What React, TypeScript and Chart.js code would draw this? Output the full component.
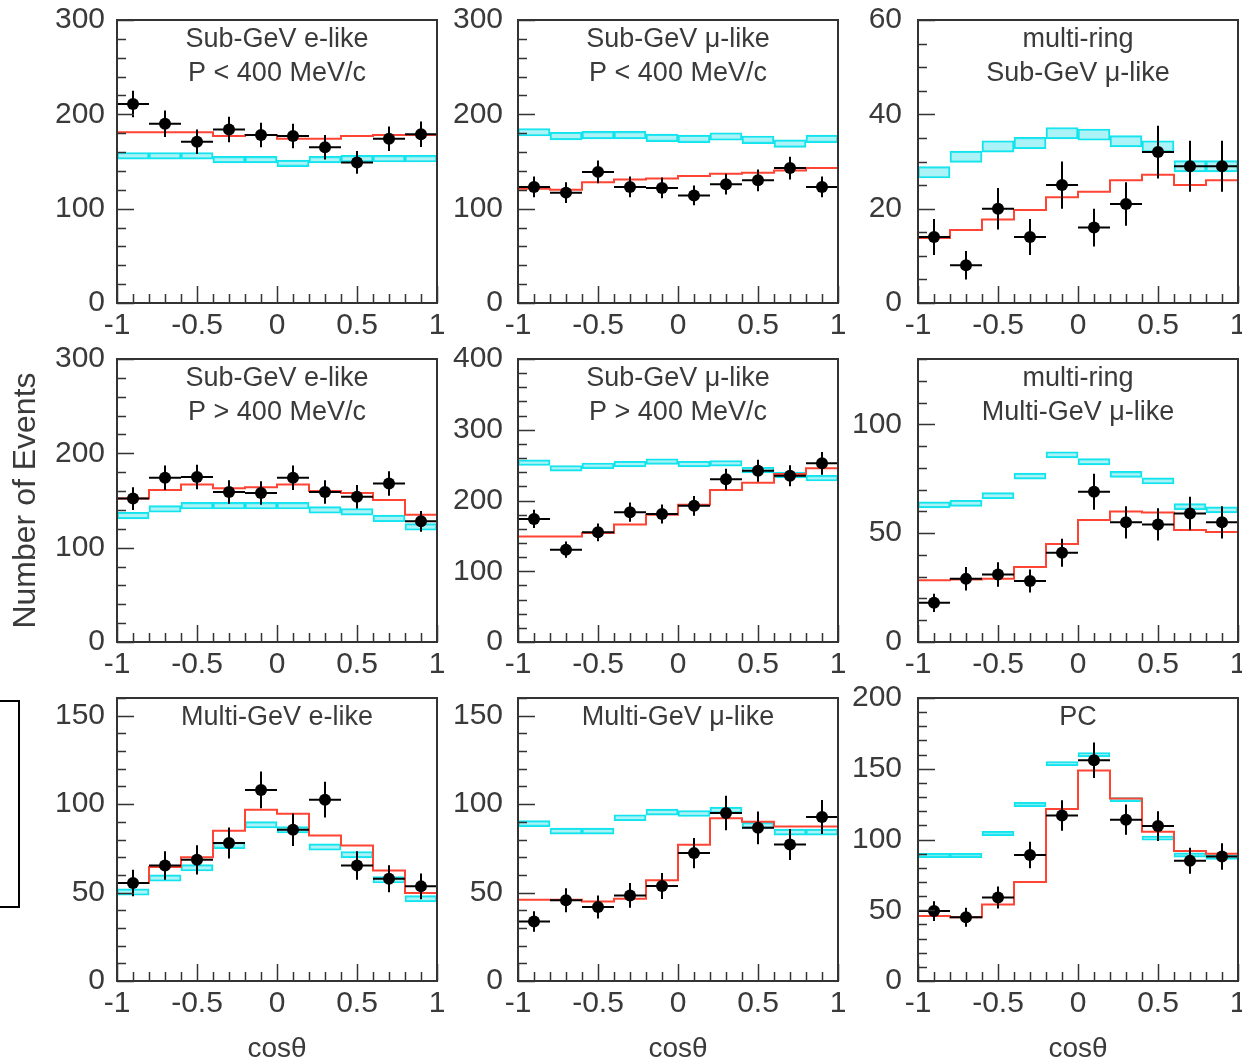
import React, { useEffect, useRef } from "react";
import { Chart, registerables } from "chart.js";
Chart.register(...registerables);

const FONT = "'Liberation Sans', Arial, Helvetica, sans-serif";
const TEXT = "#3a3a3a";

// ---- shared axis data ----
const binCenters = [-0.9, -0.7, -0.5, -0.3, -0.1, 0.1, 0.3, 0.5, 0.7, 0.9];
const binEdges = [-1, -0.8, -0.6, -0.4, -0.2, 0, 0.2, 0.4, 0.6, 0.8, 1];
const xTickValues = [-1, -0.5, 0, 0.5, 1];
const xTickLabels = ["-1", "-0.5", "0", "0.5", "1"];

// ---- panel 1: Sub-GeV e-like P<400 ----
const p1Title = ["Sub-GeV e-like", "P < 400 MeV/c"];
const p1Data = [211, 190, 171, 184, 178, 177, 165, 149, 174, 179];
const p1Err = [14, 14, 13, 13.5, 13, 13, 13, 12, 13, 13.5];
const p1Osc = [181, 181, 181, 177, 178, 174, 174, 177, 178, 178];
const p1NoOsc = [156, 156, 156, 152, 152, 148, 152, 153, 153, 153];
const p1Band = 3.5;
const p1YTicks = [0, 100, 200, 300];

// ---- panel 2: Sub-GeV mu-like P<400 ----
const p2Title = ["Sub-GeV μ-like", "P < 400 MeV/c"];
const p2Data = [123, 117, 139, 123, 122, 114, 126, 130, 143, 123];
const p2Err = [11, 11, 12, 11, 11, 10.5, 11, 11.5, 12, 11];
const p2Osc = [121, 120, 128, 131, 132, 134.5, 137, 138, 140.5, 143];
const p2NoOsc = [181, 177, 178, 178, 175, 174, 176.5, 173, 169, 174];
const p2Band = 4;
const p2YTicks = [0, 100, 200, 300];

// ---- panel 3: multi-ring Sub-GeV mu-like ----
const p3Title = ["multi-ring", "Sub-GeV μ-like"];
const p3Data = [14, 8, 20, 14, 25, 16, 21, 32, 29, 29];
const p3Err = [3.8, 3, 4.4, 3.8, 5, 4, 4.6, 5.6, 5.4, 5.4];
const p3Osc = [13.8, 15.5, 17.7, 19.7, 22.4, 23.6, 26, 27.2, 25, 26];
const p3NoOsc = [27.7, 31, 33.2, 33.9, 36, 35.7, 34.3, 33.2, 29, 29];
const p3Band = 1.2;
const p3YTicks = [0, 20, 40, 60];

// ---- panel 4: Sub-GeV e-like P>400 ----
const p4Title = ["Sub-GeV e-like", "P > 400 MeV/c"];
const p4Data = [152, 174, 175, 159, 158, 174, 159, 154, 168, 128];
const p4Err = [12, 13, 13, 12.5, 12.5, 13, 12.5, 12.5, 13, 11];
const p4Osc = [152, 161, 167, 163, 164, 167, 160, 158, 150.5, 135];
const p4NoOsc = [134, 141, 144.5, 144.5, 144.5, 144.5, 140, 138, 131, 122];
const p4Band = 3.5;
const p4YTicks = [0, 100, 200, 300];

// ---- panel 5: Sub-GeV mu-like P>400 ----
const p5Title = ["Sub-GeV μ-like", "P > 400 MeV/c"];
const p5Data = [174, 130.5, 155, 183.5, 181, 192.5, 230, 242, 235, 252.5];
const p5Err = [13, 11.5, 12.5, 13.5, 13.5, 14, 15, 15.5, 15, 16];
const p5Osc = [149, 149, 154, 166, 180, 194, 215, 225, 237.5, 245.5];
const p5NoOsc = [253.5, 245.5, 249, 251.5, 255, 251.5, 252.5, 243, 236, 231.5];
const p5Band = 4;
const p5YTicks = [0, 100, 200, 300, 400];

// ---- panel 6: multi-ring Multi-GeV mu-like ----
const p6Title = ["multi-ring", "Multi-GeV μ-like"];
const p6Data = [18, 29, 31, 28, 41, 69, 55, 54, 59, 55];
const p6Err = [4.2, 5.4, 5.6, 5.3, 6.4, 8.3, 7.4, 7.4, 7.7, 7.4];
const p6Osc = [28.4, 28.7, 29, 34.5, 45, 56, 60, 59.5, 51.5, 50.5];
const p6NoOsc = [63, 63.7, 67.2, 76.2, 86, 82.8, 77, 74, 62.2, 60.7];
const p6Band = 1.4;
const p6YTicks = [0, 50, 100];

// ---- panel 7: Multi-GeV e-like ----
const p7Title = ["Multi-GeV e-like"];
const p7Data = [55.4, 65.3, 68.5, 78, 108, 85.5, 102.5, 65.3, 57.8, 53.5];
const p7Err = [7.5, 8, 8.3, 8.8, 10.4, 9.2, 10.1, 8, 7.6, 7.3];
const p7Osc = [55.4, 64.4, 70, 85, 96.8, 94.5, 82.3, 76.6, 62.5, 49.7];
const p7NoOsc = [50.3, 58.2, 64, 76.6, 88.3, 85.5, 75.7, 71.4, 57.2, 46.5];
const p7Band = 1.8;
const p7YTicks = [0, 50, 100, 150];

// ---- panel 8: Multi-GeV mu-like ----
const p8Title = ["Multi-GeV μ-like"];
const p8Data = [33.7, 45.6, 41.8, 48.4, 53.7, 72.3, 95, 86.6, 77.2, 92.7];
const p8Err = [5.8, 6.8, 6.5, 7, 7.3, 8.5, 9.7, 9.3, 8.8, 9.6];
const p8Osc = [46, 46, 45, 46.5, 57, 77, 92, 90, 87.4, 87.4];
const p8NoOsc = [89, 84.7, 84.7, 92.3, 95.5, 94.7, 96.6, 88, 84.2, 84.2];
const p8Band = 1.7;
const p8YTicks = [0, 50, 100, 150];

// ---- panel 9: PC ----
const p9Title = ["PC"];
const p9Data = [49.4, 45, 59, 89, 117, 156, 114, 109.5, 85, 88];
const p9Err = [7, 6.7, 7.7, 9.4, 10.8, 12.5, 10.7, 10.5, 9.2, 9.4];
const p9Osc = [46, 45, 54, 70, 121.6, 148.7, 129, 105.4, 91.8, 90];
const p9NoOsc = [88.7, 88.7, 104.2, 124.7, 153.6, 160, 128.2, 101, 89, 87.5];
const p9Band = 1.5;
const p9YTicks = [0, 50, 100, 150, 200];

const yMaxes = [300, 300, 60, 300, 400, 130, 160, 160, 200];
const yMinorSteps = [20, 20, 5, 20, 20, 10, 10, 10, 10];

type PanelDef = {
  title: string[];
  data: number[];
  err: number[];
  osc: number[];
  noOsc: number[];
  band: number;
  yTicks: number[];
  yMax: number;
  yMinor: number;
  col: number;
  row: number;
};

const raw: [string[], number[], number[], number[], number[], number, number[]][] = [
  [p1Title, p1Data, p1Err, p1Osc, p1NoOsc, p1Band, p1YTicks],
  [p2Title, p2Data, p2Err, p2Osc, p2NoOsc, p2Band, p2YTicks],
  [p3Title, p3Data, p3Err, p3Osc, p3NoOsc, p3Band, p3YTicks],
  [p4Title, p4Data, p4Err, p4Osc, p4NoOsc, p4Band, p4YTicks],
  [p5Title, p5Data, p5Err, p5Osc, p5NoOsc, p5Band, p5YTicks],
  [p6Title, p6Data, p6Err, p6Osc, p6NoOsc, p6Band, p6YTicks],
  [p7Title, p7Data, p7Err, p7Osc, p7NoOsc, p7Band, p7YTicks],
  [p8Title, p8Data, p8Err, p8Osc, p8NoOsc, p8Band, p8YTicks],
  [p9Title, p9Data, p9Err, p9Osc, p9NoOsc, p9Band, p9YTicks],
];

const panels: PanelDef[] = raw.map((r, i) => ({
  title: r[0],
  data: r[1],
  err: r[2],
  osc: r[3],
  noOsc: r[4],
  band: r[5],
  yTicks: r[6],
  yMax: yMaxes[i],
  yMinor: yMinorSteps[i],
  col: i % 3,
  row: Math.floor(i / 3),
}));

// ---- layout ----
const COL_LEFT = [117, 518, 918];
const ROW_TOP = [20, 359, 698];
const PW = 320;
const PH = 283;
const L = 110;
const T = 20;
const R = 14;
const Y_PAD = [12, 15, 16];

function makeDeco(p: PanelDef) {
  return {
    id: "deco",
    afterDraw(chart: any) {
      const { ctx, chartArea: a, scales } = chart;
      const xs = scales.x;
      const ys = scales.y;
      ctx.save();
      ctx.strokeStyle = "#333";
      ctx.lineWidth = 1.5;
      ctx.beginPath();
      // y ticks (inward)
      const yMajor = p.yTicks[1] - p.yTicks[0];
      const ny = Math.round(p.yMax / p.yMinor);
      for (let k = 0; k <= ny; k++) {
        const v = k * p.yMinor;
        const r = v / yMajor;
        const major = Math.abs(r - Math.round(r)) < 1e-6;
        const py = Math.round(ys.getPixelForValue(v)) + 0.5;
        ctx.moveTo(a.left, py);
        ctx.lineTo(a.left + (major ? 17 : 9), py);
      }
      // x ticks (inward)
      for (let k = 0; k <= 20; k++) {
        const v = -1 + k * 0.1;
        const major = k % 5 === 0;
        const px = Math.round(xs.getPixelForValue(v)) + 0.5;
        ctx.moveTo(px, a.bottom);
        ctx.lineTo(px, a.bottom - (major ? 17 : 9));
      }
      ctx.stroke();
      // frame
      ctx.lineWidth = 2;
      ctx.strokeStyle = "#333";
      ctx.strokeRect(a.left, a.top, a.right - a.left, a.bottom - a.top);
      // titles
      ctx.fillStyle = TEXT;
      ctx.font = `27px ${FONT}`;
      ctx.textAlign = "center";
      ctx.textBaseline = "alphabetic";
      const cx = (a.left + a.right) / 2;
      p.title.forEach((t, i) => {
        ctx.fillText(t, cx, a.top + 27 + i * 34);
      });
      ctx.restore();
    },
  };
}

function Panel({ p }: { p: PanelDef }) {
  const ref = useRef<HTMLCanvasElement>(null);
  const B = p.row === 2 ? 1063 - (ROW_TOP[2] + PH) : 40;
  const W = L + PW + R;
  const H = T + PH + B;
  const left = COL_LEFT[p.col] - L;
  const top = ROW_TOP[p.row] - T;

  useEffect(() => {
    const canvas = ref.current;
    if (!canvas) return;

    const dataPts = p.data.map((v, i) => ({ x: binCenters[i], y: v }));
    const errPts: { x: number; y: number | null }[] = [];
    p.data.forEach((v, i) => {
      const c = binCenters[i];
      const lo = binEdges[i];
      const hi = binEdges[i + 1];
      errPts.push({ x: lo, y: v }, { x: hi, y: v }, { x: hi, y: null });
      errPts.push({ x: c, y: v - p.err[i] }, { x: c, y: v + p.err[i] }, { x: c, y: null });
    });
    const oscPts = p.osc.map((v, i) => ({ x: binEdges[i], y: v }));
    oscPts.push({ x: binEdges[binEdges.length - 1], y: p.osc[p.osc.length - 1] });
    const bandPts = p.noOsc.map((v, i) => ({ x: binCenters[i], y: [v - p.band, v + p.band] }));

    const chart = new Chart(canvas, {
      type: "line",
      data: {
        datasets: [
          {
            type: "line",
            label: "data",
            data: dataPts,
            showLine: false,
            pointRadius: 6,
            pointBackgroundColor: "#000",
            pointBorderColor: "#000",
            pointBorderWidth: 0,
            order: 0,
          } as any,
          {
            type: "line",
            label: "err",
            data: errPts,
            borderColor: "#000",
            borderWidth: 2,
            pointRadius: 0,
            spanGaps: false,
            order: 1,
          } as any,
          {
            type: "line",
            label: "osc",
            data: oscPts,
            stepped: true,
            borderColor: "#ff4433",
            borderWidth: 2,
            pointRadius: 0,
            order: 2,
          } as any,
          {
            type: "bar",
            label: "noosc",
            data: bandPts,
            backgroundColor: "rgba(90, 232, 240, 0.5)",
            borderColor: "#10e4ee",
            borderWidth: 1.5,
            borderSkipped: false,
            barPercentage: 1,
            categoryPercentage: 1,
            order: 3,
          } as any,
        ],
      },
      options: {
        animation: false,
        responsive: false,
        devicePixelRatio: 1,
        layout: { padding: { top: T, right: R, left: 0, bottom: 0 } },
        plugins: { legend: { display: false }, tooltip: { enabled: false } },
        scales: {
          x: {
            type: "linear",
            min: -1,
            max: 1,
            offset: false,
            grid: { display: false, drawTicks: false },
            border: { display: false },
            afterBuildTicks: (s: any) => {
              s.ticks = xTickValues.map((v) => ({ value: v }));
            },
            afterFit: (s: any) => {
              s.height = B;
              s.paddingLeft = 0;
              s.paddingRight = 0;
            },
            ticks: {
              autoSkip: false,
              maxRotation: 0,
              padding: 5,
              color: TEXT,
              font: { family: FONT, size: 30 },
              callback: (_v: any, idx: number) => xTickLabels[idx],
            },
            title: {
              display: p.row === 2,
              text: "cosθ",
              color: TEXT,
              font: { family: FONT, size: 28, lineHeight: 1 },
              padding: { top: 0, bottom: 0 },
            },
          } as any,
          y: {
            type: "linear",
            min: 0,
            max: p.yMax,
            grid: { display: false, drawTicks: false },
            border: { display: false },
            afterBuildTicks: (s: any) => {
              s.ticks = p.yTicks.map((v) => ({ value: v }));
            },
            afterFit: (s: any) => {
              s.width = L;
              s.paddingTop = 0;
              s.paddingBottom = 0;
            },
            ticks: {
              autoSkip: false,
              padding: Y_PAD[p.col],
              color: TEXT,
              font: { family: FONT, size: 30 },
            },
            title: {
              display: p.row === 1 && p.col === 0,
              text: "Number of Events",
              color: TEXT,
              font: { family: FONT, size: 32 },
              padding: { top: 0, bottom: 0 },
            },
          } as any,
        },
      },
      plugins: [makeDeco(p) as any],
    });
    return () => chart.destroy();
  }, [p]);

  return (
    <canvas
      ref={ref}
      width={W}
      height={H}
      style={{ position: "absolute", left, top, width: W, height: H }}
    />
  );
}

export default function App() {
  return (
    <div
      style={{
        position: "absolute",
        left: 0,
        top: 0,
        width: 1242,
        height: 1063,
        overflow: "hidden",
        background: "#fff",
      }}
    >
      <div
        style={{
          position: "absolute",
          left: -10,
          top: 700,
          width: 30,
          height: 208,
          border: "2px solid #000",
          boxSizing: "border-box",
        }}
      />
      {panels.map((p, i) => (
        <Panel key={i} p={p} />
      ))}
    </div>
  );
}
